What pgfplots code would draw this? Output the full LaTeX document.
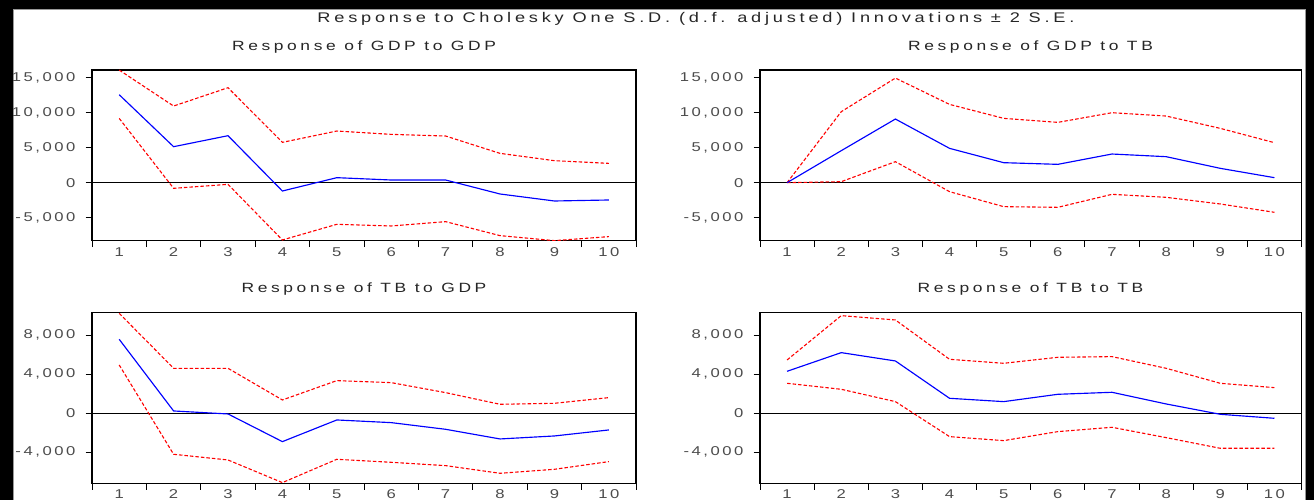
\documentclass[border=0pt]{standalone}
\usepackage{fontspec}
\setmainfont{Liberation Sans}[FakeStretch=1.3, LetterSpace=27]
\newfontfamily\tickfont{Liberation Sans}[FakeStretch=1.3, LetterSpace=20]
\usepackage{pgfplots}
\pgfplotsset{compat=1.18}
\definecolor{irfblue}{RGB}{0,0,255}
\definecolor{irfred}{RGB}{255,0,0}
\pgfplotsset{
 irf/.style={
  scale only axis, anchor=south west,
  xmin=0.5, xmax=10.5,
  xtick={0.5,1.5,...,10.5}, xticklabels={},
  extra x ticks={1,2,...,10},
  extra x tick labels={1,2,3,4,5,6,7,8,9,10},
  extra x tick style={major tick length=0bp},
  xtick pos=left, ytick pos=left,
  tick align=outside, major tick length=6.5bp,
  scaled y ticks=false,
  /pgf/number format/assume math mode=true,
  yticklabel style={xshift=-6.5bp, /pgf/number format/.cd, fixed, 1000 sep={,}},
  xticklabel style={yshift=-3bp},
  tick label style={font=\tickfont\fontsize{12.8bp}{14bp}\selectfont, text=black!70},
  axis line style={line width=1.1bp},
  tick style={black, line width=1bp},
  clip=true,
 },
 bandl/.style={irfred, line width=1.1bp, dash pattern=on 3.5bp off 2bp},
 mainl/.style={irfblue, line width=1.15bp},
 zerol/.style={black, line width=1bp},
}
\begin{document}
\begin{tikzpicture}[x=1bp,y=1bp]
\useasboundingbox (0,0) rectangle (1314,500);
\fill[white] (0,0) rectangle (1314,500);
% frame
\fill[black] (0,0) rectangle (13,500);
\fill[black] (0,491) rectangle (1314,500);
\fill[black] (1306,0) rectangle (1314,500);
\draw[black!40, line width=0.8bp] (13.6,0) -- (13.6,490.4) -- (1305.4,490.4) -- (1305.4,0);
% titles
\node[anchor=base, inner sep=0pt, font=\fontsize{14bp}{16bp}\selectfont, text=black!85] at (696,477) {Response to Cholesky One S.D. (d.f. adjusted) Innovations ± 2 S.E.};
\node[anchor=base, inner sep=0pt, font=\fontsize{13.4bp}{16bp}\selectfont, text=black!85] at (364,449.5) {Response of GDP to GDP};
\node[anchor=base, inner sep=0pt, font=\fontsize{13.4bp}{16bp}\selectfont, text=black!85] at (1030.5,449.5) {Response of GDP to TB};
\node[anchor=base, inner sep=0pt, font=\fontsize{13.4bp}{16bp}\selectfont, text=black!85] at (364,207.3) {Response of TB to GDP};
\node[anchor=base, inner sep=0pt, font=\fontsize{13.4bp}{16bp}\selectfont, text=black!85] at (1030.5,207.3) {Response of TB to TB};

% ---------- GDP to GDP
\begin{axis}[irf, at={(92bp,259.3bp)}, width=544bp, height=170.7bp,
  ymin=-8290, ymax=16100, ytick={-5000,0,5000,10000,15000}]
\addplot[zerol] coordinates {(0.5,0) (10.5,0)};
\addplot[bandl] coordinates {(1,16089) (2,10948) (3,13566) (4,5760) (5,7378) (6,6902) (7,6664) (8,4189) (9,3142) (10,2761)};
\addplot[bandl] coordinates {(1,9187) (2,-809) (3,-238) (4,-8187) (5,-5950) (6,-6188) (7,-5569) (8,-7568) (9,-8282) (10,-7711)};
\addplot[mainl] coordinates {(1,12567) (2,5141) (3,6712) (4,-1190) (5,714) (6,381) (7,381) (8,-1618) (9,-2618) (10,-2475)};
\end{axis}

% ---------- GDP to TB
\begin{axis}[irf, at={(760bp,259.3bp)}, width=541.5bp, height=170.7bp,
  ymin=-8290, ymax=16100, ytick={-5000,0,5000,10000,15000}]
\addplot[zerol] coordinates {(0.5,0) (10.5,0)};
\addplot[bandl] coordinates {(1,0) (2,10139) (3,14946) (4,11186) (5,9187) (6,8616) (7,9996) (8,9520) (9,7759) (10,5712)};
\addplot[bandl] coordinates {(1,0) (2,143) (3,2999) (4,-1285) (5,-3427) (6,-3522) (7,-1666) (8,-2094) (9,-3046) (10,-4236)};
\addplot[mainl] coordinates {(1,0) (2,4570) (3,9092) (4,4903) (5,2856) (6,2618) (7,4094) (8,3713) (9,2047) (10,714)};
\end{axis}

% ---------- TB to GDP
\begin{axis}[irf, at={(92bp,16.7bp)}, width=544bp, height=171bp,
  ymin=-7180, ymax=10360, ytick={-4000,0,4000,8000}]
\addplot[zerol] coordinates {(0.5,0) (10.5,0)};
\addplot[bandl] coordinates {(1,10256) (2,4615) (3,4615) (4,1368) (5,3350) (6,3145) (7,2120) (8,923) (9,1026) (10,1607)};
\addplot[bandl] coordinates {(1,4957) (2,-4205) (3,-4786) (4,-7111) (5,-4718) (6,-5026) (7,-5368) (8,-6154) (9,-5744) (10,-4957)};
\addplot[mainl] coordinates {(1,7590) (2,239) (3,-68) (4,-2906) (5,-684) (6,-957) (7,-1641) (8,-2632) (9,-2325) (10,-1709)};
\end{axis}

% ---------- TB to TB
\begin{axis}[irf, at={(760bp,16.7bp)}, width=541.5bp, height=171bp,
  ymin=-7180, ymax=10360, ytick={-4000,0,4000,8000}]
\addplot[zerol] coordinates {(0.5,0) (10.5,0)};
\addplot[bandl] coordinates {(1,5470) (2,10017) (3,9573) (4,5538) (5,5128) (6,5744) (7,5812) (8,4615) (9,3077) (10,2632)};
\addplot[bandl] coordinates {(1,3077) (2,2462) (3,1197) (4,-2393) (5,-2803) (6,-1880) (7,-1436) (8,-2496) (9,-3590) (10,-3590)};
\addplot[mainl] coordinates {(1,4308) (2,6222) (3,5368) (4,1538) (5,1197) (6,1949) (7,2154) (8,957) (9,-103) (10,-513)};
\end{axis}
\end{tikzpicture}
\end{document}
